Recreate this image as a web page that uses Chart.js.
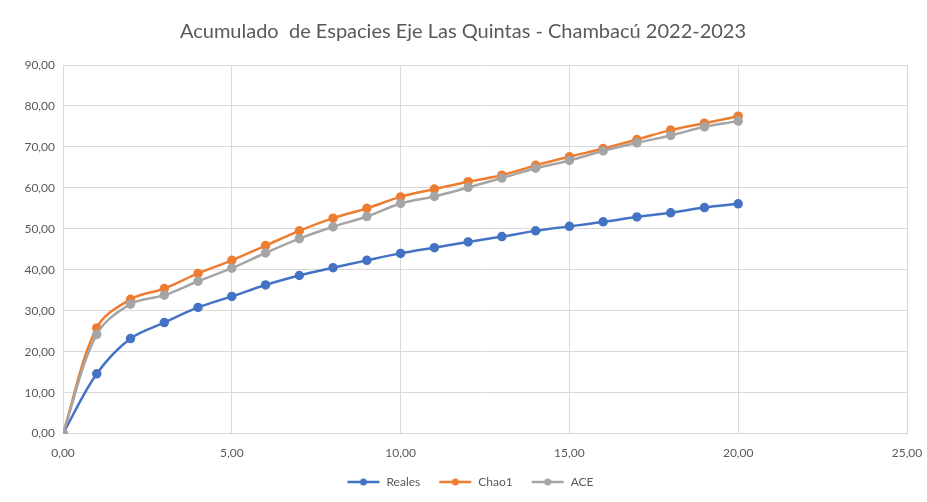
<!DOCTYPE html>
<html>
<head>
<meta charset="utf-8">
<script src="https://cdn.jsdelivr.net/npm/chart.js@4/dist/chart.umd.min.js"></script>
<style>
  html, body { margin: 0; padding: 0; background: #fff; }
  #wrap { width: 927px; height: 502px; position: relative; }
</style>
</head>
<body>
<div id="wrap"><canvas id="chart"></canvas></div>
<script>
const xValues = [0, 1, 2, 3, 4, 5, 6, 7, 8, 9, 10, 11, 12, 13, 14, 15, 16, 17, 18, 19, 20];
const reales = [0, 14.6, 23.2, 27.1, 30.8, 33.5, 36.3, 38.6, 40.5, 42.3, 44.0, 45.4, 46.8, 48.1, 49.5, 50.6, 51.7, 52.9, 53.9, 55.2, 56.1];
const chao1 = [0, 25.8, 32.8, 35.4, 39.1, 42.3, 45.9, 49.5, 52.6, 55.0, 57.8, 59.7, 61.5, 63.1, 65.5, 67.6, 69.6, 71.8, 74.1, 75.8, 77.5];
const ace = [0, 24.2, 31.6, 33.8, 37.2, 40.4, 44.1, 47.6, 50.5, 53.0, 56.2, 57.9, 60.1, 62.4, 64.8, 66.7, 69.0, 71.0, 72.8, 74.9, 76.3];
const seriesNames = ['Reales', 'Chao1', 'ACE'];
const seriesColors = ['#4472C4', '#ED7D31', '#A5A5A5'];

const fmt = v => Number(v).toFixed(2).replace('.', ',');
const toPoints = arr => arr.map((y, i) => ({ x: xValues[i], y: y }));

// line+dot marker for the legend, like Excel's (left part is blank spacing)
const MARK_W = 48;
function legendMarker(color) {
    const c = document.createElement('canvas');
    c.width = MARK_W; c.height = 10;
    const g = c.getContext('2d');
    g.strokeStyle = color;
    g.lineWidth = 2.5;
    g.beginPath(); g.moveTo(MARK_W - 33, 5); g.lineTo(MARK_W - 1, 5); g.stroke();
    g.fillStyle = color;
    g.beginPath(); g.arc(MARK_W - 17, 5, 3.5, 0, Math.PI * 2); g.fill();
    return c;
}

const datasets = [reales, chao1, ace].map((arr, i) => ({
    label: seriesNames[i],
    data: toPoints(arr),
    borderColor: seriesColors[i],
    backgroundColor: seriesColors[i],
    pointBackgroundColor: seriesColors[i],
    pointBorderColor: seriesColors[i],
    pointRadius: 3.5,
    borderWidth: 2.5,
    showLine: true,
    tension: 0.35,
}));

Chart.defaults.font.family = 'Lato, "Open Sans", sans-serif';
Chart.defaults.color = '#595959';

new Chart(document.getElementById('chart').getContext('2d'), {
    type: 'scatter',
    data: { datasets: datasets.reverse() },
    options: {
        responsive: true,
        maintainAspectRatio: false,
        animation: false,
        layout: { padding: { left: 19, right: 20, top: 0, bottom: 4 } },
        plugins: {
            title: {
                display: true,
                text: 'Acumulado  de Espacies Eje Las Quintas - Chambacú 2022-2023',
                color: '#595959',
                font: { size: 20, weight: 'normal' },
                padding: { top: 20, bottom: 21 },
            },
            legend: {
                position: 'bottom',
                labels: {
                    color: '#595959',
                    font: { size: 12 },
                    usePointStyle: true,
                    pointStyleWidth: MARK_W,
                    padding: 4,
                    generateLabels: () => seriesNames.map((name, i) => ({
                        text: name,
                        pointStyle: legendMarker(seriesColors[i]),
                        fontColor: '#595959',
                        datasetIndex: 2 - i,
                    })),
                },
            },
            tooltip: { enabled: false },
        },
        scales: {
            x: {
                type: 'linear',
                min: 0,
                max: 25,
                ticks: { stepSize: 5, color: '#595959', font: { size: 12 }, padding: 12, callback: fmt },
                grid: { color: '#d9d9d9', drawTicks: false },
                border: { color: '#d9d9d9' },
                afterFit: (s) => { s.paddingLeft = 0; s.paddingRight = 0; },
            },
            y: {
                min: 0,
                max: 90,
                ticks: { stepSize: 10, color: '#595959', font: { size: 12 }, padding: 8, callback: fmt },
                grid: { color: '#d9d9d9', drawTicks: false },
                border: { color: '#d9d9d9' },
                afterFit: (s) => { s.width = 44; },
            },
        },
    },
});
</script>
</body>
</html>
